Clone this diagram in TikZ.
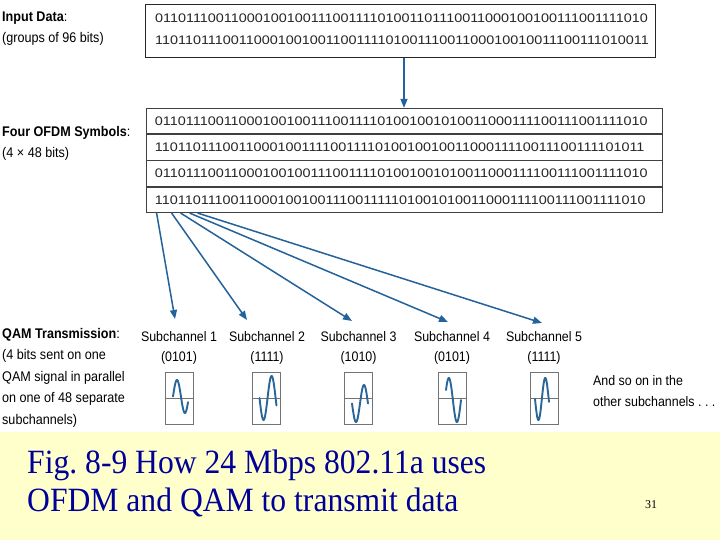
\documentclass[tikz,border=0pt]{standalone}
\usepackage{fontspec}
\setmainfont{Liberation Sans}
\newfontfamily\lblfont[FakeStretch=0.9]{Liberation Sans}
\newfontfamily\bitfont[FakeStretch=1.16]{Liberation Sans}
\newfontfamily\capfont[FakeStretch=0.93]{Liberation Serif}
\newfontfamily\pgnfont{Liberation Serif}
\usepackage{tikz}
\usetikzlibrary{arrows.meta,positioning}
\usepackage{xcolor}
\definecolor{arrowblue}{RGB}{36,98,155}
\definecolor{waveblue}{RGB}{42,102,152}
\definecolor{captionblue}{RGB}{0,0,153}
\definecolor{slideband}{RGB}{255,255,204}
\frenchspacing

\begin{document}
\begin{tikzpicture}[x=1bp, y=-1bp,
    lbl/.style={font=\lblfont\fontsize{14bp}{21.5bp}\selectfont, align=left,
                anchor=north west, inner sep=0pt},
    bits/.style={font=\bitfont\fontsize{12.4bp}{14bp}\selectfont, text=black!85,
                 inner sep=0pt},
    symrow/.style={bits, draw=black!75, line width=0.8bp, minimum width=516bp,
                   minimum height=25.5bp, inner ysep=0pt, inner xsep=9bp,
                   text width=498bp, align=left},
    sublbl/.style={font=\lblfont\fontsize{13.8bp}{20bp}\selectfont, align=center,
                   anchor=north, inner sep=0pt},
    wavebox/.style={draw=black!55, line width=1bp, minimum width=28bp,
                    minimum height=52bp, inner sep=0pt},
    axis/.style={draw=black!55, line width=1bp},
    wave/.style={draw=waveblue, line width=1.9bp, line cap=round},
    arr/.style={-{Triangle[length=9bp,width=7bp]}, draw=arrowblue, line width=1.5bp},
    caption/.style={font=\capfont\fontsize{34bp}{38bp}\selectfont, text=captionblue,
                    anchor=base west, inner sep=0pt}
]
\useasboundingbox (0,0) rectangle (720,540);
\fill[white] (0,0) rectangle (720,432);
\fill[slideband] (0,432) rectangle (720,540);

% input data
\node[lbl] (inlbl) at (2,11.3) {\textbf{Input Data}:\\(groups of 96 bits)};
\node[draw=black!85, line width=1bp, minimum width=509bp, minimum height=53bp,
      inner sep=0pt] (inbox) at (400.5,31.5) {};
\node[bits, anchor=west] (in1) at (155,18)
    {0110111001100010010011100111101001101110011000100100111001111010};
\node[bits, anchor=west] (in2) at (155,40)
    {1101101110011000100100110011110100111001100010010011100111010011};

% four OFDM symbols
\node[lbl] (symlbl) at (2,125.8) {\textbf{Four OFDM Symbols}:\\(4 × 48 bits)};
\node[symrow] (sym1) at (404,121)
    {0110111001100010010011100111101001001010011000111100111001111010};
\node[symrow, below=0pt of sym1] (sym2)
    {1101101110011000100111100111101001001001100011110011100111101011};
\node[symrow, below=0pt of sym2] (sym3)
    {0110111001100010010011100111101001001010011000111100111001111010};
\node[symrow, below=0pt of sym3] (sym4)
    {1101101110011000100100111001111101001010011000111100111001111010};
\draw[arr] (inbox.south -| sym1.north) -- (sym1.north);

% QAM transmission
\node[lbl] (qamlbl) at (2,327.8) {\textbf{QAM Transmission}:\\(4 bits sent on one\\
    QAM signal in parallel\\on one of 48 separate\\subchannels)};
\node[sublbl] (sub1) at (179,331) {Subchannel 1\\(0101)};
\node[sublbl] (sub2) at (267,331) {Subchannel 2\\(1111)};
\node[sublbl] (sub3) at (358.5,331) {Subchannel 3\\(1010)};
\node[sublbl] (sub4) at (452,331) {Subchannel 4\\(0101)};
\node[sublbl] (sub5) at (544,331) {Subchannel 5\\(1111)};
\node[lbl, font=\lblfont\fontsize{13.8bp}{21bp}\selectfont] (more) at (593,375)
    {And so on in the\\other subchannels . . .};

\coordinate (s1) at ([xshift=11bp]sym4.south west);
\coordinate (s2) at ([xshift=26bp]sym4.south west);
\coordinate (s3) at ([xshift=35bp]sym4.south west);
\coordinate (s4) at ([xshift=44bp]sym4.south west);
\coordinate (s5) at ([xshift=52bp]sym4.south west);
\coordinate (e1) at (175,319);
\coordinate (e2) at (247,320);
\coordinate (e3) at (352,321);
\coordinate (e4) at (448,322);
\coordinate (e5) at (542,323);
\draw[arr] (s1) -- (e1);
\draw[arr] (s2) -- (e2);
\draw[arr] (s3) -- (e3);
\draw[arr] (s4) -- (e4);
\draw[arr] (s5) -- (e5);

% signal boxes
\node[wavebox] (w1) at (179,398) {};
\node[wavebox] (w2) at (266.5,398) {};
\node[wavebox] (w3) at (358.5,398) {};
\node[wavebox] (w4) at (452,398) {};
\node[wavebox] (w5) at (544,398) {};
\draw[axis] (w1.west) -- (w1.east);
\draw[axis] (w2.west) -- (w2.east);
\draw[axis] (w3.west) -- (w3.east);
\draw[axis] (w4.west) -- (w4.east);
\draw[axis] (w5.west) -- (w5.east);
\draw[wave] plot[domain=0:340, samples=40, variable=\t]
    ({173+15*\t/340}, {396.5-16.5*sin(\t)});
\draw[wave] plot[domain=180:560, samples=40, variable=\t]
    ({259.5+17*(\t-180)/380}, {398-22*sin(\t)});
\draw[wave] plot[domain=180:540, samples=40, variable=\t]
    ({352+16*(\t-180)/360}, {403.5-18.5*sin(\t)});
\draw[wave] plot[domain=27:360, samples=40, variable=\t]
    ({446+15*(\t-27)/333}, {400-22*sin(\t)});
\draw[wave] plot[domain=180:548, samples=40, variable=\t]
    ({535+14*(\t-180)/368}, {399-21*sin(\t)});

% slide caption
\node[caption] (cap1) at (27,473) {Fig. 8-9 How 24 Mbps 802.11a uses};
\node[caption] (cap2) at (27,511) {OFDM and QAM to transmit data};
\node[font=\pgnfont\fontsize{12bp}{14bp}\selectfont, inner sep=0pt] (pgno)
    at (651,505) {31};
\end{tikzpicture}
\end{document}
